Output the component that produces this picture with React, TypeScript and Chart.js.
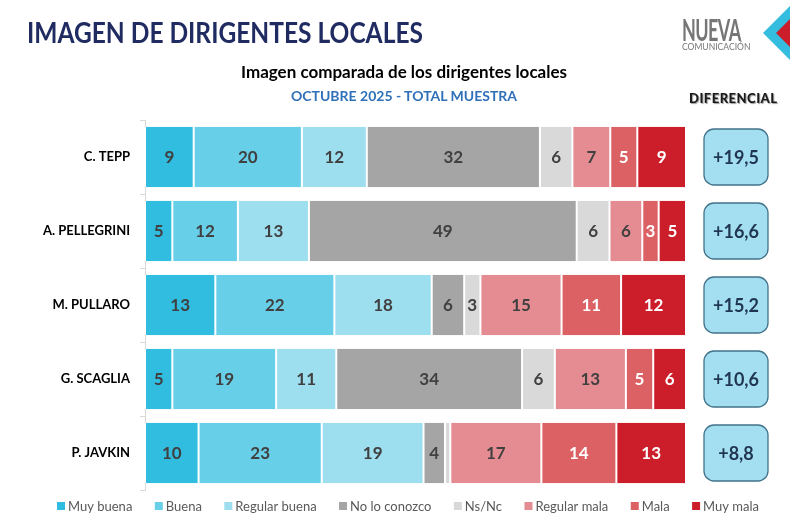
import React, { useEffect, useRef } from "react";
import { Chart, registerables } from "chart.js";

Chart.register(...registerables);

// Dirigentes evaluados (de arriba hacia abajo)
const candidates = ["C. TEPP", "A. PELLEGRINI", "M. PULLARO", "G. SCAGLIA", "P. JAVKIN"];

// Porcentajes por categoría de imagen
const muyBuena = [9, 5, 13, 5, 10];
const buena = [20, 12, 22, 19, 23];
const regularBuena = [12, 13, 18, 11, 19];
const noLoConozco = [32, 49, 6, 34, 4];
const nsNc = [6, 6, 3, 6, 1];
const regularMala = [7, 6, 15, 13, 17];
const mala = [5, 3, 11, 5, 14];
const muyMala = [9, 5, 12, 6, 13];

// Diferencial (positiva - negativa) por dirigente
const diferencial = [19.5, 16.6, 15.2, 10.6, 8.8];

const seriesNames = ["Muy buena", "Buena", "Regular buena", "No lo conozco", "Ns/Nc", "Regular mala", "Mala", "Muy mala"];
const seriesValues = [muyBuena, buena, regularBuena, noLoConozco, nsNc, regularMala, mala, muyMala];
const seriesColors = ["#31BDE0", "#68CFE8", "#9DDEEF", "#A5A5A5", "#D9D9D9", "#E58C92", "#DB6165", "#CB1E2A"];
const lightLabelSeries = ["Mala", "Muy mala"];

const FONT = "Lato, 'Open Sans', sans-serif";

// Totales por dirigente: cada barra se muestra como 100 %
const totals = candidates.map((_, i) => seriesValues.reduce((s, arr) => s + arr[i], 0));

const segmentLabels = {
  id: "segmentLabels",
  afterDatasetsDraw(chart: any) {
    const ctx = chart.ctx;
    ctx.save();
    ctx.font = `bold 17px ${FONT}`;
    ctx.textAlign = "center";
    ctx.textBaseline = "middle";
    chart.data.datasets.forEach((ds: any, di: number) => {
      const meta = chart.getDatasetMeta(di);
      meta.data.forEach((el: any, i: number) => {
        const raw = ds.rawValues[i];
        if (raw < 2) return;
        const x = (el.x + el.base) / 2;
        ctx.fillStyle = lightLabelSeries.includes(ds.label) ? "#FFFFFF" : "#404040";
        ctx.fillText(String(raw), x, el.y + 1);
      });
    });
    ctx.restore();
  },
};

const diferencialBoxes = {
  id: "diferencialBoxes",
  afterDraw(chart: any) {
    const ctx = chart.ctx;
    const meta = chart.getDatasetMeta(0);
    ctx.save();
    meta.data.forEach((el: any, i: number) => {
      const w = 64;
      const h = 56;
      const x = 704;
      const y = el.y - h / 2;
      ctx.beginPath();
      ctx.roundRect(x, y, w, h, 10);
      ctx.fillStyle = "#A3DFF1";
      ctx.fill();
      ctx.lineWidth = 1.3;
      ctx.strokeStyle = "#41738A";
      ctx.stroke();
      ctx.fillStyle = "#1F3552";
      ctx.font = `bold 18px ${FONT}`;
      ctx.textAlign = "center";
      ctx.textBaseline = "middle";
      const txt = "+" + diferencial[i].toFixed(1).replace(".", ",");
      ctx.fillText(txt, x + w / 2, el.y + 1);
    });
    ctx.restore();
  },
};

// Leyenda inferior en una sola fila, de x = 57 a x = 759
const bottomLegend = {
  id: "bottomLegend",
  afterDraw(chart: any) {
    const ctx = chart.ctx;
    ctx.save();
    ctx.font = `13px ${FONT}`;
    ctx.textBaseline = "middle";
    ctx.textAlign = "left";
    const left = 57;
    const right = 759;
    const box = 8;
    const textGap = 11;
    const datasets = chart.data.datasets;
    const widths = datasets.map((ds: any) => ctx.measureText(ds.label).width);
    const itemsWidth = widths.reduce((s: number, w: number) => s + textGap + w, 0);
    const gap = (right - left - itemsWidth) / (datasets.length - 1);
    const cy = 506;
    let x = left;
    datasets.forEach((ds: any, i: number) => {
      ctx.fillStyle = ds.backgroundColor;
      ctx.fillRect(x, cy - box / 2, box, box);
      ctx.fillStyle = "#595959";
      ctx.fillText(ds.label, x + textGap, cy + 1);
      x += textGap + widths[i] + gap;
    });
    ctx.restore();
  },
};

export default function App() {
  const canvasRef = useRef<HTMLCanvasElement | null>(null);

  useEffect(() => {
    document.body.style.margin = "0";
    const canvas = canvasRef.current;
    if (!canvas) return;
    const chart = new Chart(canvas, {
      type: "bar",
      data: {
        labels: candidates,
        datasets: seriesNames.map((name, si) => ({
          label: name,
          data: seriesValues[si].map((v, i) => (v / totals[i]) * 100),
          rawValues: seriesValues[si],
          backgroundColor: seriesColors[si],
          borderColor: "#FFFFFF",
          borderWidth: { left: 1, right: 1, top: 0, bottom: 0 },
          borderSkipped: false,
          barPercentage: 0.82,
          categoryPercentage: 1,
        })) as any,
      },
      options: {
        indexAxis: "y",
        responsive: false,
        animation: false,
        layout: { padding: { left: 0, right: 104, top: 120, bottom: 28 } },
        scales: {
          x: { stacked: true, min: 0, max: 100, display: false },
          y: {
            stacked: true,
            afterFit: (scale: any) => {
              scale.width = 145;
            },
            grid: {
              offset: true,
              drawOnChartArea: false,
              tickLength: 5,
              color: "#D9D9D9",
            },
            border: { color: "#D9D9D9" },
            ticks: {
              padding: 10,
              color: "#000000",
              font: { family: FONT, size: 13, weight: "bold" },
            },
          },
        },
        plugins: {
          legend: { display: false },
          tooltip: { enabled: false },
        },
      },
      plugins: [segmentLabels, diferencialBoxes, bottomLegend],
    });
    return () => chart.destroy();
  }, []);

  return (
    <div style={{ position: "absolute", left: 0, top: 0, width: 790, height: 518, background: "#FFFFFF", overflow: "hidden" }}>
      <canvas ref={canvasRef} width={790} height={518} style={{ position: "absolute", left: 0, top: 0 }} />
      <div style={{ position: "absolute", left: 27, top: 18, fontFamily: FONT, fontWeight: 700, fontSize: 28, lineHeight: 1, color: "#1F2B61", whiteSpace: "nowrap", transform: "scaleX(0.876)", transformOrigin: "left top" }}>
        IMAGEN DE DIRIGENTES LOCALES
      </div>
      <div style={{ position: "absolute", left: 154, width: 500, top: 63, textAlign: "center", fontFamily: FONT, fontWeight: 700, fontSize: 17, lineHeight: 1, color: "#000000", whiteSpace: "nowrap" }}>
        Imagen comparada de los dirigentes locales
      </div>
      <div style={{ position: "absolute", left: 154, width: 500, top: 89, textAlign: "center", fontFamily: FONT, fontWeight: 700, fontSize: 14, lineHeight: 1, color: "#2F70B8", whiteSpace: "nowrap" }}>
        OCTUBRE 2025 - TOTAL MUESTRA
      </div>
      <div style={{ position: "absolute", left: 689, top: 92, fontFamily: FONT, fontWeight: 900, fontSize: 13, lineHeight: 1, letterSpacing: 0.5, color: "#1A1A1A", textShadow: "1px 1px 1px #9A9A9A", whiteSpace: "nowrap" }}>
        DIFERENCIAL
      </div>
      <div style={{ position: "absolute", left: 682, top: 14, fontFamily: FONT, fontWeight: 700, fontSize: 30, lineHeight: 1, color: "#767676", transform: "scaleX(0.6)", transformOrigin: "left top", whiteSpace: "nowrap", letterSpacing: -1 }}>
        NUEVA
      </div>
      <div style={{ position: "absolute", left: 682, top: 42, fontFamily: FONT, fontSize: 9, lineHeight: 1, color: "#767676", whiteSpace: "nowrap", transform: "scaleX(0.95)", transformOrigin: "left top" }}>
        COMUNICACIÓN
      </div>
      <svg width={30} height={70} style={{ position: "absolute", left: 760, top: 0 }}>
        <polygon points="3,33 30,6 30,60" fill="#35BDE0" />
        <polygon points="16,33 30,19 30,47" fill="#CB1E2A" />
      </svg>
    </div>
  );
}
